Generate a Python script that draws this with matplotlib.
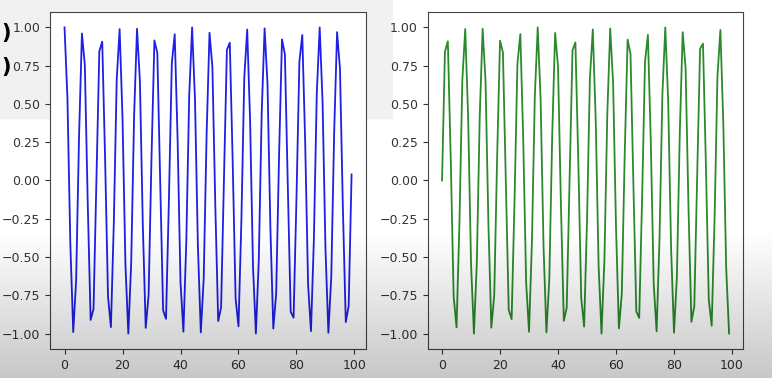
import numpy as np
import matplotlib
matplotlib.use("Agg")
import matplotlib.pyplot as plt

# values (x = 0..99)
x_vals = list(range(100))

cos_vals = [
    1.0000, 0.5403, -0.4161, -0.9900, -0.6536, 0.2837, 0.9602, 0.7539, -0.1455, -0.9111,
    -0.8391, 0.0044, 0.8439, 0.9074, 0.1367, -0.7597, -0.9577, -0.2752, 0.6603, 0.9887,
    0.4081, -0.5477, -1.0000, -0.5328, 0.4242, 0.9912, 0.6469, -0.2921, -0.9626, -0.7481,
    0.1543, 0.9147, 0.8342, -0.0133, -0.8486, -0.9037, -0.1280, 0.7654, 0.9551, 0.2666,
    -0.6669, -0.9873, -0.3999, 0.5551, 0.9998, 0.5253, -0.4321, -0.9923, -0.6401, 0.3006,
    0.9650, 0.7422, -0.1630, -0.9182, -0.8293, 0.0221, 0.8532, 0.8999, 0.1192, -0.7710,
    -0.9524, -0.2581, 0.6735, 0.9858, 0.3918, -0.5624, -0.9997, -0.5178, 0.4401, 0.9934,
    0.6333, -0.3090, -0.9671, -0.7362, 0.1719, 0.9218, 0.8243, -0.0310, -0.8578, -0.8960,
    -0.1104, 0.7766, 0.9496, 0.2495, -0.6800, -0.9843, -0.3837, 0.5698, 0.9995, 0.5103,
    -0.4481, -0.9945, -0.6265, 0.3174, 0.9691, 0.7302, -0.1804, -0.9251, -0.8193, 0.0398,
]

sin_vals = [
    0.0000, 0.8415, 0.9093, 0.1411, -0.7568, -0.9589, -0.2794, 0.6570, 0.9894, 0.4121,
    -0.5440, -1.0000, -0.5366, 0.4202, 0.9906, 0.6503, -0.2879, -0.9614, -0.7510, 0.1499,
    0.9129, 0.8367, -0.0089, -0.8462, -0.9056, -0.1324, 0.7626, 0.9564, 0.2709, -0.6636,
    -0.9880, -0.4040, 0.5514, 0.9999, 0.5291, -0.4282, -0.9918, -0.6435, 0.2964, 0.9638,
    0.7451, -0.1586, -0.9165, -0.8318, 0.0177, 0.8509, 0.9018, 0.1236, -0.7683, -0.9538,
    -0.2624, 0.6702, 0.9866, 0.3959, -0.5588, -0.9998, -0.5216, 0.4362, 0.9929, 0.6368,
    -0.3048, -0.9661, -0.7392, 0.1674, 0.9200, 0.8268, -0.0265, -0.8555, -0.8979, -0.1148,
    0.7739, 0.9511, 0.2538, -0.6768, -0.9851, -0.3878, 0.5661, 0.9995, 0.5140, -0.4441,
    -0.9939, -0.6299, 0.3132, 0.9684, 0.7332, -0.1761, -0.9234, -0.8218, 0.0354, 0.8601,
    0.8940, 0.1057, -0.7795, -0.9483, -0.2453, 0.6833, 0.9836, 0.3796, -0.5734, -0.9992,
]

fig = plt.figure(figsize=(7.72, 3.78), dpi=100)

# background layer: light grey strip behind the top-left corner (screenshot overlay)
bg = fig.add_axes([0, 0, 1, 1], zorder=-5)
bg.axis("off")
bg.set_xlim(0, 1)
bg.set_ylim(0, 1)
bg.add_patch(plt.Rectangle((0, 1 - 118 / 378), 392 / 772, 118 / 378, color="#f1f1f1"))

ax1 = fig.add_axes([0.065, 0.077, 0.409, 0.891])
ax2 = fig.add_axes([0.554, 0.077, 0.409, 0.891])

ax1.plot(x_vals, cos_vals, color="#1f1fe6", lw=1.3)
ax2.plot(x_vals, sin_vals, color="#2b8a2b", lw=1.3)

for ax in (ax1, ax2):
    ax.set_xticks([0, 20, 40, 60, 80, 100])
    ax.set_yticks([-1.0, -0.75, -0.5, -0.25, 0.0, 0.25, 0.5, 0.75, 1.0])
    ax.tick_params(labelsize=9, colors="#333333")
    for s in ax.spines.values():
        s.set_color("#444444")

# stray brackets at the left edge of the screenshot
fig.text(0.002, 1 - 33 / 378, ")", fontsize=15, fontweight="bold", va="center")
fig.text(0.002, 1 - 67 / 378, ")", fontsize=15, fontweight="bold", va="center")

# darkening towards the bottom of the frame
over = fig.add_axes([0, 0, 1, 1], zorder=10)
over.axis("off")
h = 378
alpha = np.zeros((h, 1))
start = 230
alpha[start:, 0] = np.linspace(0, 0.22, h - start)
grad = np.zeros((h, 1, 4))
grad[..., 3] = alpha
over.imshow(grad, aspect="auto", extent=[0, 1, 0, 1])
over.set_xlim(0, 1)
over.set_ylim(0, 1)

fig.savefig("out.png", dpi=100)
